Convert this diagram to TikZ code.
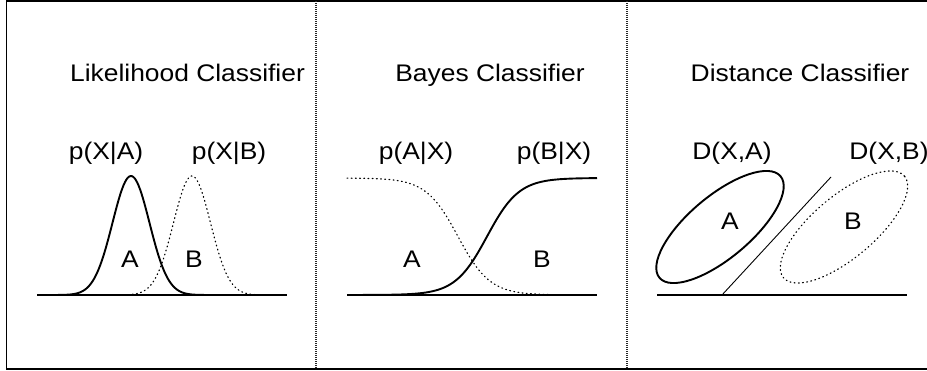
\documentclass[tikz,border=0pt]{standalone}
\usepackage{fontspec}
\setmainfont{Liberation Sans}[FakeStretch=1.1]
\tikzset{
  lbl/.style={inner sep=0pt, anchor=base, font=\fontsize{24}{28}\selectfont},
  axisline/.style={line width=2.2pt},
  solidcurve/.style={line width=1.9pt},
  dotcurve/.style={line width=1.2pt, dash pattern=on 0.8pt off 3.4pt, line cap=round},
  divider/.style={line width=1.6pt, black!85, dash pattern=on 1pt off 1pt},
  frame/.style={line width=1.8pt}
}
\begin{document}
\begin{tikzpicture}[x=1pt,y=1pt]
\useasboundingbox (0,0) rectangle (927,370);
% frame
\draw[frame] (927,369.3) -- (6.5,369.3) -- (6.5,1.3) -- (927,1.3);
\coordinate (d1t) at (316,369); \coordinate (d1b) at (316,2);
\coordinate (d2t) at (627,369); \coordinate (d2b) at (627,2);
\draw[divider] (d1t) -- (d1b);
\draw[divider] (d2t) -- (d2b);
% titles
\node[lbl] (t1) at (187.5,288) {Likelihood Classifier};
\node[lbl] (t2) at (490,288) {Bayes Classifier};
\node[lbl] (t3) at (800,288) {Distance Classifier};
% panel 1
\node[lbl] (pxa) at (106,210) {p(X|A)};
\node[lbl] (pxb) at (229,210) {p(X|B)};
\coordinate (b1l) at (37,75); \coordinate (b1r) at (287,75);
\draw[axisline] (b1l) -- (b1r);
\draw[solidcurve] plot[domain=50:215, samples=120, smooth] (\x, {75+119*exp(-0.5*((\x-131)/18.5)^2)});
\draw[dotcurve] plot[domain=124:262, samples=120, smooth] (\x, {75+119*exp(-0.5*((\x-192)/18.5)^2)});
\node[lbl] (la1) at (130,102.5) {A};
\node[lbl] (lb1) at (194,102.5) {B};
% panel 2
\node[lbl] (pax) at (416,210) {p(A|X)};
\node[lbl] (pbx) at (554,210) {p(B|X)};
\coordinate (b2l) at (347,75); \coordinate (b2r) at (597,75);
\draw[axisline] (b2l) -- (b2r);
\draw[dotcurve] plot[domain=347:597, samples=150, smooth] (\x, {75+117/(1+exp((\x-458)/16))});
\draw[solidcurve] plot[domain=347:597, samples=150, smooth] (\x, {75+117/(1+exp(-(\x-487)/16))});
\node[lbl] (la2) at (412,102.5) {A};
\node[lbl] (lb2) at (542,102.5) {B};
% panel 3
\node[lbl] (dxa) at (732,210) {D(X,A)};
\node[lbl] (dxb) at (889,210) {D(X,B)};
\coordinate (b3l) at (657,75); \coordinate (b3r) at (907,75);
\draw[axisline] (b3l) -- (b3r);
\draw[solidcurve, shift={(720,143)}, rotate=40] (0,0) ellipse [x radius=79, y radius=31];
\draw[dotcurve, shift={(844,143)}, rotate=40] (0,0) ellipse [x radius=79, y radius=31];
\coordinate (sep1) at (722,75); \coordinate (sep2) at (831,193);
\draw[line width=0.9pt] (sep1) -- (sep2);
\node[lbl] (la3) at (730,140) {A};
\node[lbl] (lb3) at (853,140) {B};
\end{tikzpicture}
\end{document}
